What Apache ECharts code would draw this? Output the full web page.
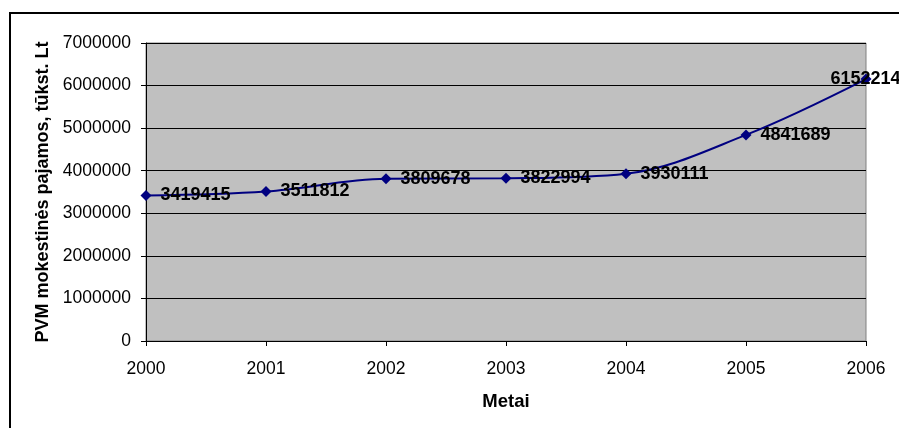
<!DOCTYPE html>
<html><head><meta charset="utf-8">
<script src="https://cdn.jsdelivr.net/npm/echarts@6/dist/echarts.min.js"></script>
<style>html,body{margin:0;padding:0;background:#fff}#c{width:899px;height:428px}</style>
</head><body><div id="c"></div>
<script>
const categories = ['2000','2001','2002','2003','2004','2005','2006'];
const values = [3419415, 3511812, 3809678, 3822994, 3930111, 4841689, 6152214];
const yTitle = 'PVM mokestinės pajamos, tūkst. Lt';
const xTitle = 'Metai';

const chart = echarts.init(document.getElementById('c'), null, {renderer:'canvas'});
const font = 'Liberation Sans, Arial, sans-serif';
const data = values.map((v,i) => {
  const item = {value: v};
  if (i === values.length - 1) item.label = {offset: [-46, 0]};
  return item;
});
chart.setOption({
  animation: false,
  backgroundColor: '#fff',
  graphic: [{
    type: 'rect', shape: {x: 10, y: 13, width: 1000, height: 500},
    style: {fill: 'none', stroke: '#000', lineWidth: 2}, silent: true, z: 100
  }],
  grid: {left: 146, top: 43, right: 33, bottom: 87, show: true,
    backgroundColor: '#C0C0C0', borderColor: '#808080', borderWidth: 1},
  xAxis: {
    type: 'category', data: categories, boundaryGap: false,
    name: xTitle, nameLocation: 'middle', nameGap: 51,
    nameTextStyle: {fontFamily: font, fontSize: 18.5, fontWeight: 'bold', color: '#000'},
    axisLine: {lineStyle: {color: '#000', width: 1}},
    axisTick: {show: true, length: 5, lineStyle: {color: '#000'}},
    axisLabel: {fontFamily: font, fontSize: 17.5, color: '#000', margin: 19},
    splitLine: {show: false}
  },
  yAxis: {
    type: 'value', min: 0, max: 7000000, interval: 1000000,
    name: yTitle, nameLocation: 'middle', nameGap: 90,
    nameTextStyle: {fontFamily: font, fontSize: 18, fontWeight: 'bold', color: '#000'},
    axisLine: {show: true, lineStyle: {color: '#000', width: 1}},
    axisTick: {show: true, length: 5, lineStyle: {color: '#000'}},
    axisLabel: {fontFamily: font, fontSize: 17.5, color: '#000', margin: 15,
      formatter: v => String(v)},
    splitLine: {show: true, lineStyle: {color: '#000', width: 1}}
  },
  series: [{
    type: 'line', data: data, smooth: 0.35,
    symbol: 'diamond', symbolSize: 11,
    lineStyle: {color: '#000080', width: 2},
    itemStyle: {color: '#000080'},
    label: {show: true, position: 'right', distance: 5, offset: [4, 0],
      fontFamily: font, fontSize: 18, fontWeight: 'bold', color: '#000'},
    z: 5
  }]
});
</script></body></html>
